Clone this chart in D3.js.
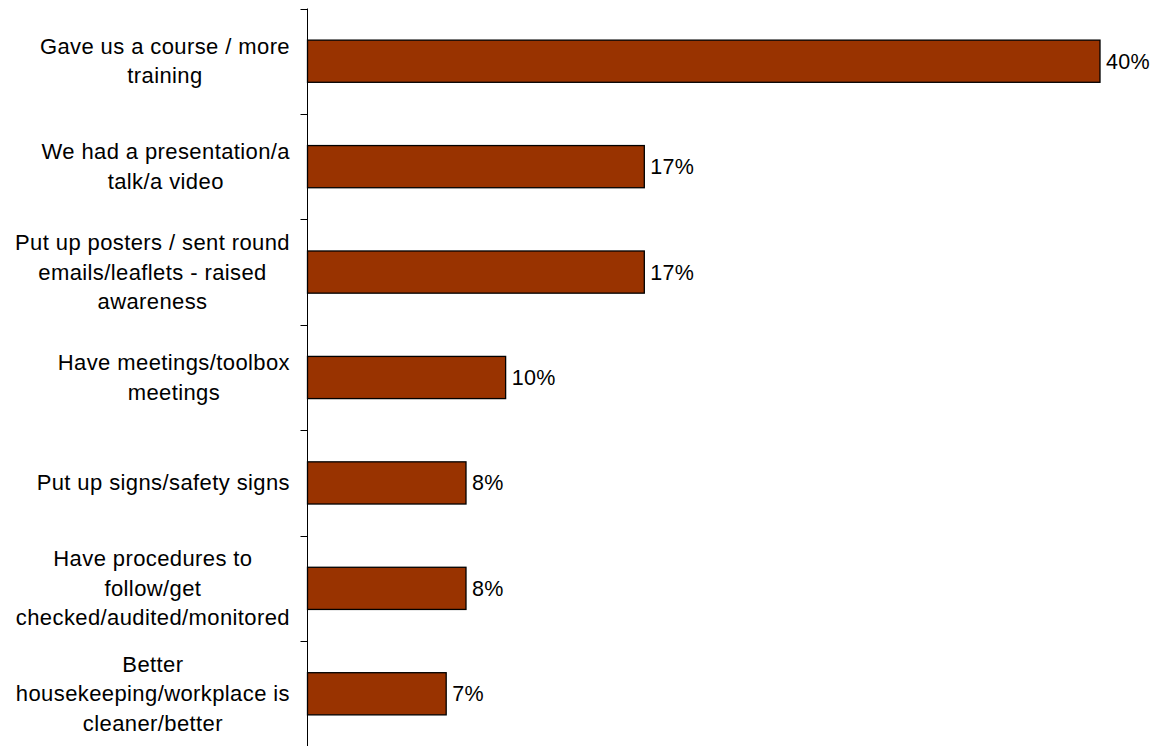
<!DOCTYPE html>
<html>
<head>
<meta charset="utf-8">
<script src="https://cdn.jsdelivr.net/npm/d3@7"></script>
<style>
  html, body { margin: 0; padding: 0; background: #fff; }
  svg { display: block; }
  text { font-family: "Liberation Sans", Arial, sans-serif; fill: #000; }
</style>
</head>
<body>
<svg id="chart" width="1162" height="746"></svg>
<script>
const categories = [
  ["Gave us a course / more", "training"],
  ["We had a presentation/a", "talk/a video"],
  ["Put up posters / sent round", "emails/leaflets - raised", "awareness"],
  ["Have meetings/toolbox", "meetings"],
  ["Put up signs/safety signs"],
  ["Have procedures to", "follow/get", "checked/audited/monitored"],
  ["Better", "housekeeping/workplace is", "cleaner/better"]
];
const values = [40, 17, 17, 10, 8, 8, 7];
const valueLabels = ["40%", "17%", "17%", "10%", "8%", "8%", "7%"];

const W = 1162, H = 746;
const axisX = 307.5;
const svg = d3.select("#chart");

const keys = categories.map((c, i) => i);
const y = d3.scaleBand().domain(keys).range([8.5, 746.5]).paddingInner(0.6).paddingOuter(0.3);
const x = d3.scaleLinear().domain([0, 40]).range([axisX, 1100]);

// bars
svg.append("g").selectAll("rect").data(values).join("rect")
  .attr("x", axisX)
  .attr("y", (d, i) => y(i))
  .attr("width", d => x(d) - axisX)
  .attr("height", y.bandwidth())
  .attr("fill", "#993300")
  .attr("stroke", "#000")
  .attr("stroke-width", 1.3);

// axis line + ticks at band boundaries
const step = y.step();
const start = y.range()[0];
const g = svg.append("g");
g.append("line").attr("x1", axisX).attr("x2", axisX).attr("y1", start).attr("y2", H)
  .attr("stroke", "#000").attr("stroke-width", 1);
d3.range(categories.length + 1).forEach(k => {
  const yy = Math.round(start + k * step) + 0.5;
  g.append("line").attr("x1", axisX - 7).attr("x2", axisX).attr("y1", yy).attr("y2", yy)
    .attr("stroke", "#000").attr("stroke-width", 1);
});

// value labels
svg.append("g").selectAll("text").data(values).join("text")
  .attr("x", d => x(d) + 6)
  .attr("y", (d, i) => y(i) + y.bandwidth() / 2 + 7.5)
  .attr("font-size", 21.5)
  .attr("letter-spacing", 0.3)
  .text((d, i) => valueLabels[i]);

// category labels (block right-aligned, lines centered)
const fs = 22, lh = 29.5, rightEdge = 290;
const lg = svg.append("g");
categories.forEach((lines, i) => {
  const cy = y(i) + y.bandwidth() / 2;
  const t = lg.append("text").attr("font-size", fs).attr("text-anchor", "middle")
    .attr("letter-spacing", 0.4);
  const tspans = lines.map((ln, j) => t.append("tspan").text(ln));
  const maxW = d3.max(tspans, s => s.node().getComputedTextLength());
  const cx = rightEdge - maxW / 2;
  const n = lines.length;
  tspans.forEach((s, j) => {
    s.attr("x", cx).attr("y", cy + (j - (n - 1) / 2) * lh + 7.5);
  });
});
</script>
</body>
</html>
